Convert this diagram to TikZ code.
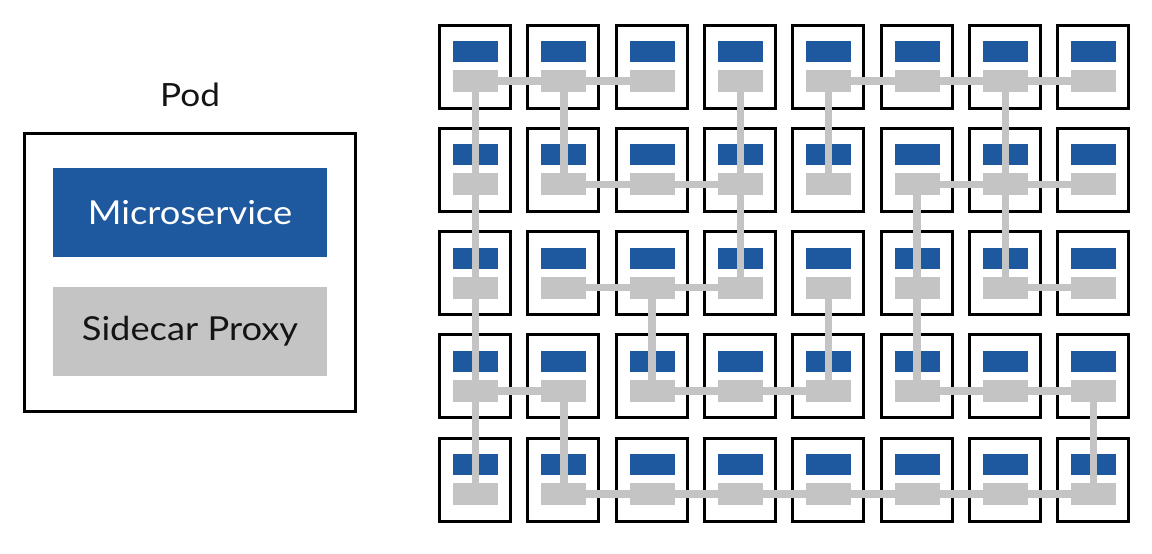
\documentclass[tikz,border=0pt]{standalone}
\usepackage{fontspec}
\setmainfont{Lato}
\newfontfamily\legendfont{Lato}[FakeStretch=1.1]
\definecolor{msblue}{RGB}{30,88,158}
\definecolor{scgray}{RGB}{196,196,196}
\definecolor{ink}{RGB}{20,20,20}
\tikzset{
  pod/.style={draw=black, line width=3pt, fill=white, minimum width=71pt, minimum height=83pt, inner sep=0pt},
  ms/.style={fill=msblue, minimum width=45pt, minimum height=21pt, inner sep=0pt},
  sc/.style={fill=scgray, minimum width=45pt, minimum height=22pt, inner sep=0pt},
  link/.style={draw=scgray, line width=7.5pt},
  bigpod/.style={draw=black, line width=3pt, fill=white, minimum width=331pt, minimum height=278pt, inner sep=0pt},
  bigms/.style={fill=msblue, text=white, minimum width=274pt, minimum height=89pt, inner sep=0pt, font=\legendfont\fontsize{33}{38}\selectfont},
  bigsc/.style={fill=scgray, text=ink, minimum width=274pt, minimum height=89pt, inner sep=0pt, font=\legendfont\fontsize{33}{38}\selectfont},
  title/.style={text=ink, inner sep=0pt, font=\legendfont\fontsize{32}{37}\selectfont}
}
\begin{document}
\begin{tikzpicture}[x=1pt,y=-1pt]
\useasboundingbox[fill=white] (0,0) rectangle (1152,554);
% legend pod
\node[title] (podlabel) at (190,95) {Pod};
\node[bigpod] (bigpod) at (190,272.5) {};
\node[bigms] (bigms) at (190,212.5) {Microservice};
\node[bigsc] (bigsc) at (190,331.5) {Sidecar Proxy};
% grid of pods
\foreach \c in {0,...,7}{
  \foreach \r in {0,...,4}{
    \node[pod] (p-\c-\r) at ({475+88.3*\c},{66.5+103.3*\r}) {};
    \node[ms] (m-\c-\r) at ({475.5+88.3*\c},{51.5+103.3*\r}) {};
    \node[sc] (s-\c-\r) at ({475.5+88.3*\c},{81+103.3*\r}) {};
  }
}
% horizontal links (row: from col to col+1)
\foreach \r/\c in {0/0,0/1,0/4,0/5,0/6,
                   1/1,1/2,1/5,1/6,
                   2/1,2/2,2/6,
                   3/0,3/2,3/3,3/5,3/6,
                   4/1,4/2,4/3,4/4,4/5,4/6}{
  \pgfmathtruncatemacro{\n}{\c+1}
  \draw[link] (s-\c-\r.center) -- (s-\n-\r.center);
}
% vertical links (col: from row to row+1)
\foreach \c/\r in {0/0,0/1,0/2,0/3,
                   1/0,1/3,
                   2/2,
                   3/0,3/1,
                   4/0,4/2,
                   5/1,5/2,
                   6/0,6/1,
                   7/3}{
  \pgfmathtruncatemacro{\n}{\r+1}
  \draw[link] (s-\c-\r.center) -- (s-\c-\n.center);
}
\end{tikzpicture}
\end{document}
